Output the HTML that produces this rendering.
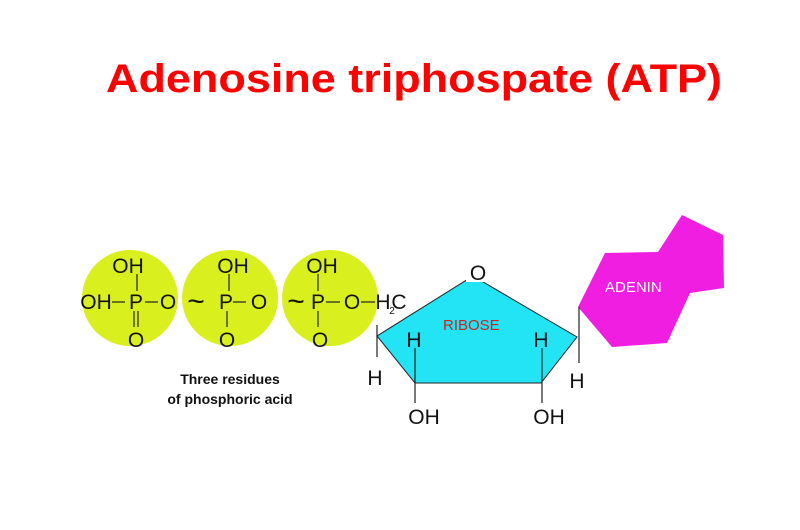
<!DOCTYPE html>
<html><head><style>body{margin:0;background:#fff}svg{display:block}</style></head><body>
<svg width="800" height="530" viewBox="0 0 800 530" xmlns="http://www.w3.org/2000/svg" font-family="Liberation Sans, sans-serif">
<text x="106" y="92" font-size="40" font-weight="bold" fill="#f00" textLength="616" lengthAdjust="spacingAndGlyphs">Adenosine triphospate (ATP)</text>
<circle cx="130" cy="298" r="48" fill="#d9f01e"/>
<circle cx="230" cy="298" r="48" fill="#d9f01e"/>
<circle cx="330" cy="298" r="48" fill="#d9f01e"/>
<polygon points="377,336 473,276 577,337 541,383 415,383" fill="#22e4f5" stroke="#222" stroke-width="1"/>
<rect x="466" y="262" width="22" height="20" fill="#fff"/>
<polygon points="578,307 605,253 658,252 682,215 723,235 724,288 690,293 667,343 612,347" fill="#f01ee0"/>
<g stroke="#222" stroke-width="1.2" fill="none">
<line x1="137" y1="274" x2="137" y2="291"/><line x1="229" y1="274" x2="229" y2="291"/><line x1="318" y1="274" x2="318" y2="291"/>
<line x1="134" y1="311" x2="134" y2="327"/><line x1="138" y1="311" x2="138" y2="327"/>
<line x1="227" y1="311" x2="227" y2="327"/><line x1="318" y1="311" x2="318" y2="327"/>
<line x1="112" y1="302" x2="125" y2="302"/><line x1="145" y1="302" x2="158" y2="302"/>
<line x1="233" y1="302" x2="246" y2="302"/><line x1="326" y1="302" x2="340" y2="302"/><line x1="361" y1="302" x2="375" y2="302"/>
<line x1="377" y1="325" x2="377" y2="357"/><line x1="579" y1="307" x2="579" y2="363"/>
<line x1="415" y1="348" x2="415" y2="403"/><line x1="542" y1="348" x2="542" y2="403"/>
</g>
<g font-size="21" fill="#111" text-anchor="middle">
<text x="128" y="273">OH</text><text x="233" y="273">OH</text><text x="322" y="273">OH</text>
<text x="96" y="309">OH</text><text x="136" y="309">P</text><text x="168" y="309">O</text>
<text x="196" y="311" font-size="30">~</text><text x="226" y="309">P</text><text x="259" y="309">O</text>
<text x="296" y="311" font-size="30">~</text><text x="318" y="309">P</text><text x="352" y="309">O</text><text x="383" y="309">H</text><text x="392" y="314" font-size="10">2</text><text x="399" y="309">C</text>
<text x="136" y="347">O</text><text x="227" y="347">O</text><text x="320" y="347">O</text>
<text x="478" y="280">O</text>
<text x="414" y="347">H</text><text x="541" y="347">H</text>
<text x="375" y="385">H</text><text x="577" y="388">H</text>
<text x="424" y="424">OH</text><text x="549" y="424">OH</text>
</g>
<text x="443" y="330" font-size="15" fill="#d02020">RIBOSE</text>
<text x="605" y="292" font-size="15" fill="#fff">ADENIN</text>
<text x="230" y="384" font-size="14" font-weight="bold" fill="#111" text-anchor="middle">Three residues</text>
<text x="230" y="404" font-size="14" font-weight="bold" fill="#111" text-anchor="middle">of phosphoric acid</text>
</svg>
</body></html>
